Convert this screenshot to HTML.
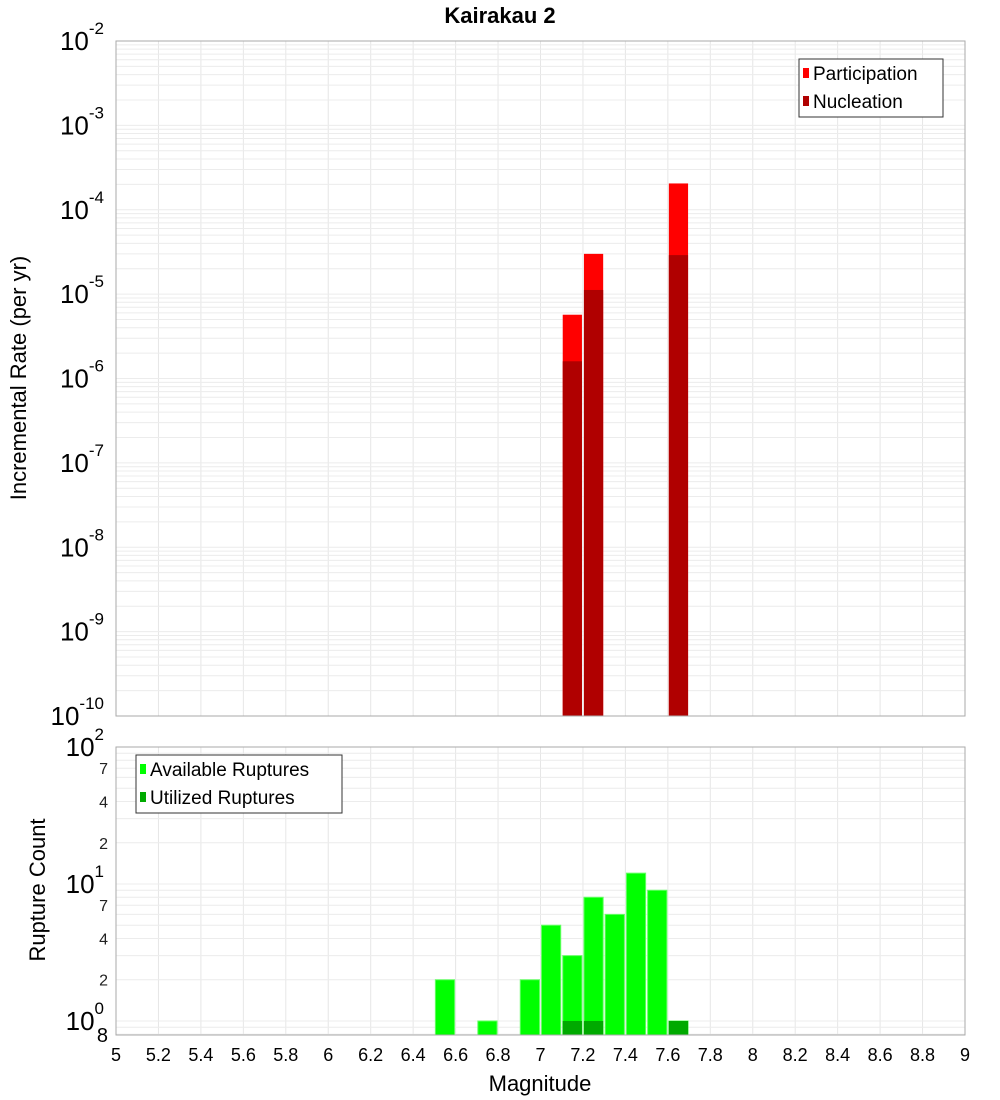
<!DOCTYPE html>
<html><head><meta charset="utf-8"><style>
html,body{margin:0;padding:0;background:#fff;}
svg{display:block;font-family:"Liberation Sans","DejaVu Sans",sans-serif;}
</style></head><body>
<svg id="c" width="1000" height="1100" xmlns="http://www.w3.org/2000/svg">
<text x="500" y="23" text-anchor="middle" font-size="22" font-weight="bold">Kairakau 2</text>
<g id="topPlot"></g>
<g id="botPlot"></g>
<text transform="translate(26,378) rotate(-90)" text-anchor="middle" font-size="22">Incremental Rate (per yr)</text>
<text transform="translate(45,890) rotate(-90)" text-anchor="middle" font-size="22">Rupture Count</text>
<text x="540" y="1091" text-anchor="middle" font-size="22">Magnitude</text>
</svg>
<script>
const magBins = [7.15, 7.25, 7.65];
const participation = [5.7e-6, 3.0e-5, 2.05e-4];
const nucleation = [1.6e-6, 1.12e-5, 2.9e-5];
const countBins = [6.55, 6.75, 6.95, 7.05, 7.15, 7.25, 7.35, 7.45, 7.55, 7.65];
const available = [2, 1, 2, 5, 3, 8, 6, 12, 9, 1];
const utilBins = [7.15, 7.25, 7.65];
const utilized = [1, 1, 1];
const xTicks = [5,5.2,5.4,5.6,5.8,6,6.2,6.4,6.6,6.8,7,7.2,7.4,7.6,7.8,8,8.2,8.4,8.6,8.8,9];
const topExps = [-2,-3,-4,-5,-6,-7,-8,-9,-10];
const botMinor = [2,4,7,20,40,70];

const NS="http://www.w3.org/2000/svg";
const L=116,R=965;
const T1=41,B1=716,T2=747,B2=1035;
const xs=m=>L+(m-5)/4*(R-L);
const y1=v=>T1+(-2-Math.log10(v))/8*(B1-T1);
const decBot=(B2-T2)/(2-Math.log10(0.79));
const y2=v=>T2+(2-Math.log10(v))*decBot;
function mk(p,tag,a,txt){const e=document.createElementNS(NS,tag);for(const k in a)e.setAttribute(k,a[k]);if(txt!==undefined)e.textContent=txt;p.appendChild(e);return e;}
const topG=document.getElementById('topPlot'),botG=document.getElementById('botPlot');
for(const t of xTicks){
  const g1=mk(topG,'line',{x1:xs(t),x2:xs(t),y1:T1,y2:B1,stroke:'#e6e6e6'});
  
  
  const g2=mk(botG,'line',{x1:xs(t),x2:xs(t),y1:T2,y2:B2,stroke:'#e6e6e6'});
  
  
}
for(let e=-10;e<-2;e++)for(let k=1;k<10;k++){
  const yy=y1(k*Math.pow(10,e));
  const g=mk(topG,'line',{x1:L,x2:R,y1:yy,y2:yy,stroke:'#ececec'});
  
  
}
for(let e=-1;e<2;e++)for(let k=1;k<10;k++){
  const v=k*Math.pow(10,e); if(v<0.79)continue;
  const yy=y2(v);
  const g=mk(botG,'line',{x1:L,x2:R,y1:yy,y2:yy,stroke:'#ececec'});
  
  
}
const bw=(R-L)/40;
magBins.forEach((m,i)=>{
  const b=mk(topG,'rect',{x:xs(m)-bw/2+1,y:y1(participation[i]),width:bw-2,height:B1-y1(participation[i]),fill:'#ff0000'});
  
  
  const n=mk(topG,'rect',{x:xs(m)-bw/2+1,y:y1(nucleation[i]),width:bw-2,height:B1-y1(nucleation[i]),fill:'#b00000'});
  
  
});
countBins.forEach((m,i)=>{
  const b=mk(botG,'rect',{x:xs(m)-bw/2+1,y:y2(available[i]),width:bw-2,height:B2-y2(available[i]),fill:'#00ff00',stroke:'#66ff66','stroke-width':1});
  
  
});
utilBins.forEach((m,i)=>{
  const b=mk(botG,'rect',{x:xs(m)-bw/2+1,y:y2(utilized[i]),width:bw-2,height:B2-y2(utilized[i]),fill:'#00aa00'});
  
  
});
let f=mk(topG,'rect',{x:L,y:T1,width:R-L,height:B1-T1,fill:'none',stroke:'#aaaaaa'});


f=mk(botG,'rect',{x:L,y:T2,width:R-L,height:B2-T2,fill:'none',stroke:'#aaaaaa'});


for(const e of topExps){
  const yy=y1(Math.pow(10,e));
  const t=mk(topG,'text',{x:104,y:yy+9,'text-anchor':'end','font-size':26});
  
  
  mk(t,'tspan',{},'10');
  mk(t,'tspan',{dy:-16,'font-size':17},String(e));
}
[[100,'2'],[10,'1'],[1,'0']].forEach(([v,e])=>{
  const yy=y2(v);
  const t=mk(botG,'text',{x:104,y:yy+9,'text-anchor':'end','font-size':26});
  
  
  mk(t,'tspan',{},'10');
  mk(t,'tspan',{dy:-16,'font-size':17},e);
});
for(const v of botMinor){
  const t=mk(botG,'text',{x:108,y:y2(v)+6,'text-anchor':'end','font-size':16,fill:'#222'},String(v<10?v:v/10));
  
  
}
let e8=mk(botG,'text',{x:108,y:1042,'text-anchor':'end','font-size':20},'8');


for(const t of xTicks){
  const s=mk(botG,'text',{x:xs(t),y:1061,'text-anchor':'middle','font-size':18},String(t));
  
  
}
function legend(p,bx,by,w,items){
  const g=mk(p,'g',{});
  
  
  mk(g,'rect',{x:bx,y:by,width:w,height:58,fill:'#fff',stroke:'#333'});
  items.forEach(([c,l],i)=>{
    const e=mk(g,'g',{});
    
    
    mk(e,'rect',{x:bx+4,y:by+9+i*28,width:6,height:10,fill:c});
    mk(e,'text',{x:bx+14,y:by+21+i*28,'font-size':19},l);
  });
}
legend(topG,799,59,144,[['#ff0000','Participation'],['#b00000','Nucleation']]);
legend(botG,136,755,206,[['#00ff00','Available Ruptures'],['#00aa00','Utilized Ruptures']]);
</script>
</body></html>
